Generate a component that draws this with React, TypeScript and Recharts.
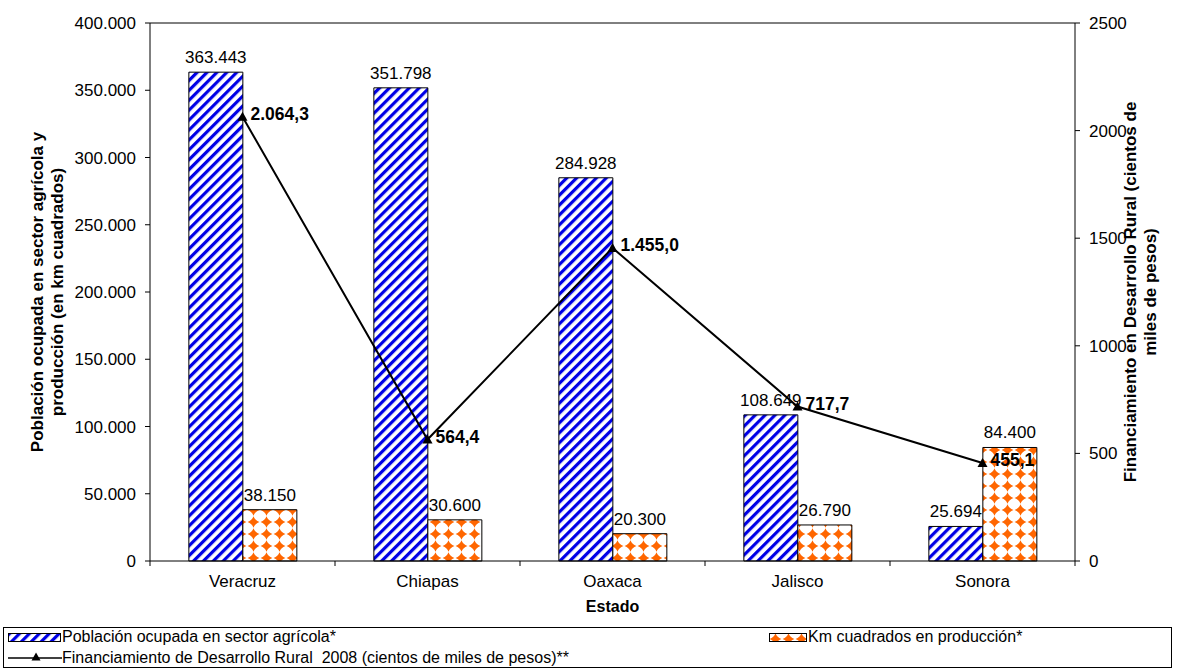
import React from 'react';
import {
  ComposedChart,
  Bar,
  Line,
  XAxis,
  YAxis,
  Legend,
  LabelList,
  ReferenceLine
} from 'recharts';

const estados = ['Veracruz', 'Chiapas', 'Oaxaca', 'Jalisco', 'Sonora'];
const poblacion = [363443, 351798, 284928, 108649, 25694];
const kmProduccion = [38150, 30600, 20300, 26790, 84400];
const financiamiento = [2064.3, 564.4, 1455.0, 717.7, 455.1];
const leftTicks = [0, 50000, 100000, 150000, 200000, 250000, 300000, 350000, 400000];
const rightTicks = [0, 500, 1000, 1500, 2000, 2500];

const data = estados.map((estado, i) => ({
  estado,
  poblacion: poblacion[i],
  km: kmProduccion[i],
  financiamiento: financiamiento[i]
}));

const FONT = '"Liberation Sans", Arial, sans-serif';
const BLUE = '#0000E6';
const ORANGE = '#FF6600';
const TXT = 17;
const TITLE = 17;

// 363443 -> "363.443"
const miles = (v: number) =>
  Math.round(v).toString().replace(/\B(?=(\d{3})+(?!\d))/g, '.');
// 2064.3 -> "2.064,3"
const decimal = (v: number) => {
  const [ent, dec] = v.toFixed(1).split('.');
  return `${miles(Number(ent))},${dec}`;
};

const Patterns = () => (
  <svg width={0} height={0} style={{ position: 'absolute' }}>
    <defs>
      <pattern id="rayas" width={7} height={7} patternUnits="userSpaceOnUse" patternTransform="rotate(45)">
        <rect width={7} height={7} fill="#fff" />
        <rect width={3.2} height={7} fill={BLUE} />
      </pattern>
      <pattern id="rombos" width={13} height={12} patternUnits="userSpaceOnUse">
        <rect width={13} height={12} fill="#fff" />
        <path
          d="M6.5,0.3 Q8.1,4.4 12.4,6 Q8.1,7.6 6.5,11.7 Q4.9,7.6 0.6,6 Q4.9,4.4 6.5,0.3 Z"
          fill={ORANGE}
        />
      </pattern>
    </defs>
  </svg>
);

const Triangle = ({ cx, cy, size = 10 }: { cx: number; cy: number; size?: number }) => (
  <path
    d={`M${cx},${cy - size / 2} L${cx + size / 2},${cy + size / 2 - 1} L${cx - size / 2},${cy + size / 2 - 1} Z`}
    fill="#000"
  />
);

// category labels centred, tick marks on the category boundaries
const EstadoTick = (props: any) => {
  const { x, y, payload, index, visibleTicksCount } = props;
  const half = payload.offset || 0;
  const axisY = y - 14;
  return (
    <g>
      <line x1={x - half} x2={x - half} y1={axisY} y2={axisY + 5} stroke="#000" />
      {index === visibleTicksCount - 1 && (
        <line x1={x + half} x2={x + half} y1={axisY} y2={axisY + 5} stroke="#000" />
      )}
      <text x={x} y={y} dy="0.71em" textAnchor="middle" fontSize={TXT} fill="#000">
        {payload.value}
      </text>
    </g>
  );
};

const AxisTitle = ({ viewBox, lines, cx }: any) => {
  const cy = viewBox.y + viewBox.height / 2;
  return (
    <text
      transform={`translate(${cx},${cy}) rotate(-90)`}
      textAnchor="middle"
      fontSize={TITLE}
      fontWeight="bold"
      fill="#000"
    >
      {lines.map((l: string, i: number) => (
        <tspan key={i} x={0} y={(i - (lines.length - 1) / 2) * 20 + 6}>
          {l}
        </tspan>
      ))}
    </text>
  );
};

const LegendBox = () => (
  <div
    style={{
      position: 'relative',
      width: 1169,
      height: 41,
      border: '1px solid #000',
      boxSizing: 'border-box',
      fontSize: 16,
      lineHeight: '18px',
      fontFamily: FONT,
      color: '#000',
      background: '#fff'
    }}
  >
    <svg width={53} height={9} style={{ position: 'absolute', left: 4, top: 5 }}>
      <rect x={0.5} y={0.5} width={52} height={8} fill="url(#rayas)" stroke="#000" />
    </svg>
    <span style={{ position: 'absolute', left: 58, top: 0 }}>Población ocupada en sector agrícola*</span>
    <svg width={38} height={9} style={{ position: 'absolute', left: 765, top: 5 }}>
      <rect x={0.5} y={0.5} width={37} height={8} fill="url(#rombos)" stroke="#000" />
    </svg>
    <span style={{ position: 'absolute', left: 804, top: 0 }}>Km cuadrados en producción*</span>
    <svg width={54} height={12} style={{ position: 'absolute', left: 4, top: 24 }}>
      <line x1={0} x2={54} y1={6} y2={6} stroke="#000" strokeWidth={1.5} />
      <Triangle cx={28} cy={5} size={9} />
    </svg>
    <span style={{ position: 'absolute', left: 58, top: 21 }}>
      Financiamiento de Desarrollo Rural&nbsp; 2008 (cientos de miles de pesos)**
    </span>
  </div>
);

const App = () => (
  <div style={{ position: 'absolute', left: 0, top: 0, width: 1177, height: 671, background: '#fff', fontFamily: FONT }}>
    <Patterns />
    <ComposedChart
      width={1177}
      height={671}
      data={data}
      margin={{ top: 23, right: 0, bottom: 3, left: 0 }}
      barCategoryGap="21%"
      barGap={0}
      style={{ fontFamily: FONT }}
    >
      <XAxis
        dataKey="estado"
        height={66}
        tickLine={false}
        tickSize={5}
        tickMargin={9}
        axisLine={{ stroke: '#000' }}
        tick={<EstadoTick />}
        label={{ value: 'Estado', position: 'insideBottom', offset: 15, fontSize: 16, fontWeight: 'bold', fill: '#000' }}
      />
      <YAxis
        yAxisId="left"
        width={150}
        domain={[0, 400000]}
        ticks={leftTicks}
        tickFormatter={miles}
        tickSize={5}
        tickMargin={9}
        axisLine={{ stroke: '#000' }}
        tickLine={{ stroke: '#000' }}
        tick={{ fill: '#000', fontSize: TXT }}
        label={(p: any) => (
          <AxisTitle
            viewBox={p.viewBox}
            cx={47}
            lines={['Población ocupada en sector agrícola y', 'producción (en km cuadrados)']}
          />
        )}
      />
      <YAxis
        yAxisId="right"
        orientation="right"
        width={102}
        domain={[0, 2500]}
        ticks={rightTicks}
        tickSize={5}
        tickMargin={9}
        axisLine={{ stroke: '#000' }}
        tickLine={{ stroke: '#000' }}
        tick={{ fill: '#000', fontSize: TXT }}
        label={(p: any) => (
          <AxisTitle
            viewBox={p.viewBox}
            cx={1140}
            lines={['Financiamiento en Desarrollo Rural (cientos de', 'miles de pesos)']}
          />
        )}
      />
      <ReferenceLine yAxisId="left" y={400000} stroke="#000" />
      <Legend
        verticalAlign="bottom"
        align="left"
        content={() => <LegendBox />}
        wrapperStyle={{ left: 3, bottom: 3, width: 1169, height: 41 }}
      />
      <Bar
        yAxisId="left"
        dataKey="poblacion"
        name="Población ocupada en sector agrícola*"
        fill="url(#rayas)"
        stroke="#000"
        strokeWidth={1}
        isAnimationActive={false}
      >
        <LabelList dataKey="poblacion" position="top" offset={9} formatter={(v: any) => miles(Number(v))} fill="#000" fontSize={TXT} />
      </Bar>
      <Bar
        yAxisId="left"
        dataKey="km"
        name="Km cuadrados en producción*"
        fill="url(#rombos)"
        stroke="#000"
        strokeWidth={1}
        isAnimationActive={false}
      >
        <LabelList dataKey="km" position="top" offset={9} formatter={(v: any) => miles(Number(v))} fill="#000" fontSize={TXT} />
      </Bar>
      <Line
        yAxisId="right"
        dataKey="financiamiento"
        name="Financiamiento de Desarrollo Rural 2008 (cientos de miles de pesos)**"
        stroke="#000"
        strokeWidth={2}
        dot={(p: any) => <Triangle key={`t-${p.index}`} cx={p.cx} cy={p.cy} />}
        activeDot={false}
        isAnimationActive={false}
      >
        <LabelList
          dataKey="financiamiento"
          position="right"
          offset={8}
          dy={-3}
          formatter={(v: any) => decimal(Number(v))}
          fill="#000"
          fontSize={17.5}
          fontWeight="bold"
        />
      </Line>
    </ComposedChart>
  </div>
);

export default App;
